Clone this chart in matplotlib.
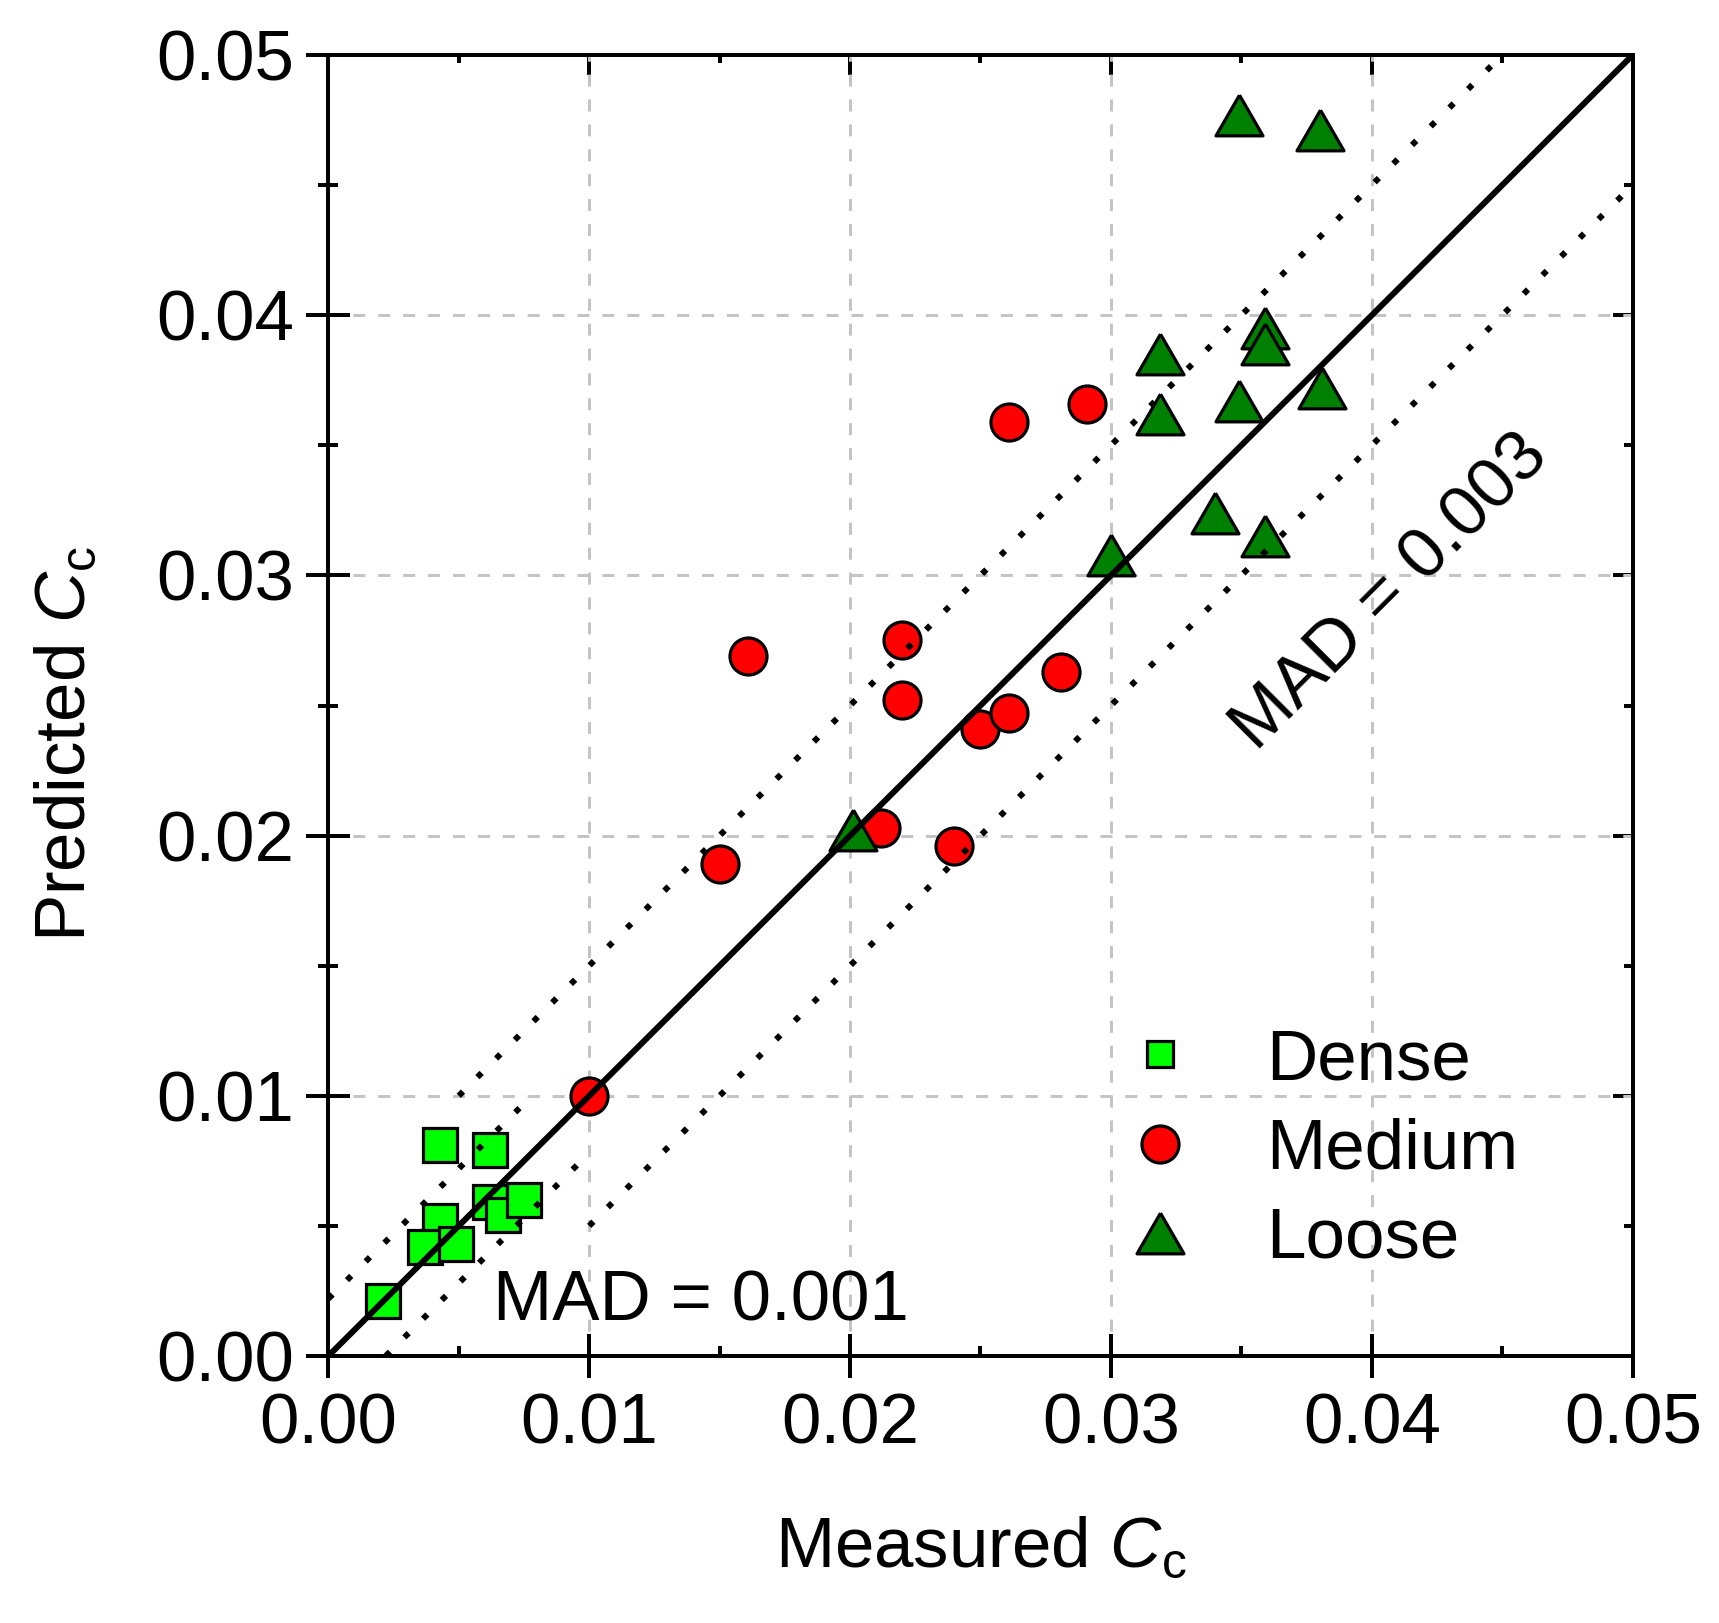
import matplotlib
matplotlib.use("Agg")
import matplotlib.pyplot as plt
import numpy as np

plt.rcParams['font.family'] = ['Liberation Sans', 'DejaVu Sans']
plt.rcParams['mathtext.fontset'] = 'custom'
plt.rcParams['mathtext.rm'] = 'Liberation Sans'
plt.rcParams['mathtext.it'] = 'Liberation Sans:italic'

# ---- data ----
dense_x = [0.0021, 0.0043, 0.0062, 0.0043, 0.0037, 0.0049, 0.0062, 0.0067, 0.0075]
dense_y = [0.0021, 0.0081, 0.0079, 0.0052, 0.0042, 0.0043, 0.0059, 0.0054, 0.0060]

medium_x = [0.0100, 0.0150, 0.0161, 0.0212, 0.0220, 0.0220, 0.0240, 0.0250, 0.0261, 0.0261, 0.0281, 0.0291]
medium_y = [0.0100, 0.0189, 0.0269, 0.0203, 0.0275, 0.0252, 0.0196, 0.0241, 0.0247, 0.0359, 0.0263, 0.0366]

loose_x = [0.0201, 0.0300, 0.0319, 0.0319, 0.0340, 0.0349, 0.0349, 0.0359, 0.0359, 0.0359, 0.0380, 0.0381]
loose_y = [0.0202, 0.0308, 0.0385, 0.0362, 0.0324, 0.0477, 0.0367, 0.0395, 0.0389, 0.0315, 0.0471, 0.0372]

labels = ["Dense", "Medium", "Loose"]
ticks = [0.00, 0.01, 0.02, 0.03, 0.04, 0.05]
tick_labels = ["0.00", "0.01", "0.02", "0.03", "0.04", "0.05"]

# reference lines
line_11 = [0.0, 0.05]
outer_up_x = [0.005, 0.045]
outer_lo_x = [0.010, 0.050]
outer_off = 0.005
inner_up_x = [0.0, 0.0078]
inner_lo_x = [0.0022, 0.0100]
inner_off = 0.0022

PT = 72 / 100.0  # px -> pt at dpi 100

fig = plt.figure(figsize=(17.19, 16.23), dpi=100)
ax = fig.add_axes([0.19098, 0.16451, 0.75881, 0.80160])
ax.set_xlim(0, 0.05)
ax.set_ylim(0, 0.05)

# grid
ax.set_axisbelow(True)
ax.grid(True, which='major', color='#c4c4c4', linewidth=3 * PT, linestyle=(0, (4, 4.3)))

# markers
edge = 3.2 * PT
tri = [(0, 0.866), (-1, -0.866), (1, -0.866), (0, 0.866)]
h_d, = ax.plot(dense_x, dense_y, linestyle='none', marker='s', ms=34 * PT,
               mfc='#00ff00', mec='black', mew=edge, label=labels[0], zorder=2)
h_m, = ax.plot(medium_x, medium_y, linestyle='none', marker='o', ms=37 * PT,
               mfc='#ff0000', mec='black', mew=edge, label=labels[1], zorder=2)
h_l, = ax.plot(loose_x, loose_y, linestyle='none', marker=tri, ms=47 * PT,
               mfc='#008000', mec='black', mew=edge, label=labels[2], zorder=2)

# lines on top of markers
ax.plot(line_11, line_11, color='black', lw=6 * PT, zorder=3, solid_capstyle='butt')
dot = dict(color='black', lw=6 * PT, zorder=3, linestyle=(0, (1.0, 3.4)))
ax.plot(outer_up_x, [v + outer_off for v in outer_up_x], **dot)
ax.plot(outer_lo_x, [v - outer_off for v in outer_lo_x], **dot)
ax.plot(inner_up_x, [v + inner_off for v in inner_up_x], **dot)
ax.plot(inner_lo_x, [v - inner_off for v in inner_lo_x], **dot)

FS = 51

# ticks
ax.set_xticks(ticks)
ax.set_xticklabels(tick_labels)
ax.set_yticks(ticks)
ax.set_yticklabels(tick_labels)
ax.set_xticks(np.arange(0.005, 0.05, 0.01), minor=True)
ax.set_yticks(np.arange(0.005, 0.05, 0.01), minor=True)
ax.tick_params(axis='both', which='major', direction='inout', length=44 * PT,
               width=4 * PT, labelsize=FS, top=False, right=False)
ax.tick_params(axis='x', which='major', pad=14 * PT)
ax.tick_params(axis='y', which='major', pad=12 * PT)
ax.tick_params(axis='y', which='minor', direction='inout', length=20 * PT, width=4 * PT, right=False)
ax.tick_params(axis='x', which='minor', direction='in', length=10 * PT, width=4 * PT, top=False)
for s in ax.spines.values():
    s.set_linewidth(4 * PT)

# top / right inward ticks
sx = ax.secondary_xaxis('top')
sx.set_xticks(ticks)
sx.set_xticks(np.arange(0.005, 0.05, 0.01), minor=True)
sx.tick_params(which='major', direction='in', length=20 * PT, width=4 * PT, labeltop=False)
sx.tick_params(which='minor', direction='in', length=8 * PT, width=4 * PT)
sx.spines['top'].set_linewidth(4 * PT)
sy = ax.secondary_yaxis('right')
sy.set_yticks(ticks)
sy.set_yticks(np.arange(0.005, 0.05, 0.01), minor=True)
sy.tick_params(which='major', direction='in', length=20 * PT, width=4 * PT, labelright=False)
sy.tick_params(which='minor', direction='in', length=9 * PT, width=4 * PT)
sy.spines['right'].set_linewidth(4 * PT)

# axis labels
ax.set_xlabel("Measured $C_\\mathrm{c}$", fontsize=FS)
ax.set_ylabel("Predicted $C_\\mathrm{c}$", fontsize=FS)
ax.xaxis.set_label_coords(0.5, -0.123)
ax.yaxis.set_label_coords(-0.175, 0.47)

# annotations
ax.text(0.00632, 0.00136, "MAD = 0.001", fontsize=FS, ha='left', va='baseline')
ax.text(0.0356, 0.0232, "MAD = 0.003", fontsize=FS, ha='left', va='baseline',
        rotation=45, rotation_mode='anchor')

# legend
leg = ax.legend(handles=[h_d, h_m, h_l], loc='upper left', bbox_to_anchor=(0.6105, 0.252),
                frameon=False, fontsize=FS, handlelength=1.0, handletextpad=1.0,
                labelspacing=0.33, borderpad=0, borderaxespad=0)
hs = leg.legend_handles
hs[0].set_markersize(27 * PT)

fig.savefig("out.png", dpi=100)
